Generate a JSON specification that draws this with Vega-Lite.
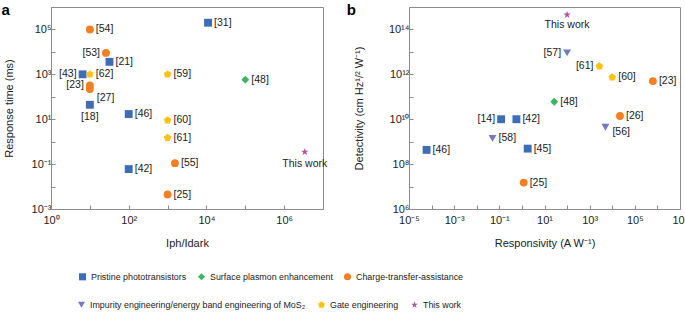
{
  "$schema": "https://vega.github.io/schema/vega-lite/v6.json",
  "padding": 0,
  "background": "white",
  "datasets": {
    "a": [
      {"ref": "[54]", "cat": "Charge-transfer-assistance", "x": 10, "y": 100000},
      {"ref": "[53]", "cat": "Charge-transfer-assistance", "x": 26, "y": 9000},
      {"ref": "[21]", "cat": "Pristine phototransistors", "x": 32, "y": 3600},
      {"ref": "[31]", "cat": "Pristine phototransistors", "x": 11000, "y": 200000},
      {"ref": "[43]", "cat": "Pristine phototransistors", "x": 6.5, "y": 1000},
      {"ref": "[62]", "cat": "Gate engineering", "x": 10, "y": 1000},
      {"ref": "[23]", "cat": "Charge-transfer-assistance", "x": 10, "y": 320},
      {"ref": "[27]", "cat": "Charge-transfer-assistance", "x": 10, "y": 220},
      {"ref": "[18]", "cat": "Pristine phototransistors", "x": 10, "y": 44},
      {"ref": "[46]", "cat": "Pristine phototransistors", "x": 100, "y": 17},
      {"ref": "[59]", "cat": "Gate engineering", "x": 1000, "y": 1000},
      {"ref": "[48]", "cat": "Surface plasmon enhancement", "x": 100000, "y": 580},
      {"ref": "[60]", "cat": "Gate engineering", "x": 1000, "y": 9},
      {"ref": "[61]", "cat": "Gate engineering", "x": 1000, "y": 1.5},
      {"ref": "[42]", "cat": "Pristine phototransistors", "x": 100, "y": 0.06},
      {"ref": "[55]", "cat": "Charge-transfer-assistance", "x": 1550, "y": 0.11},
      {"ref": "[25]", "cat": "Charge-transfer-assistance", "x": 1000, "y": 0.0044},
      {"ref": "This work", "cat": "This work", "x": 3400000, "y": 0.35}
    ],
    "b": [
      {"ref": "This work", "cat": "This work", "x": 100, "y": 450000000000000},
      {"ref": "[57]", "cat": "Impurity engineering/energy band engineering of MoS₂", "x": 100, "y": 9000000000000},
      {"ref": "[61]", "cat": "Gate engineering", "x": 2700, "y": 2300000000000},
      {"ref": "[60]", "cat": "Gate engineering", "x": 10000, "y": 740000000000},
      {"ref": "[23]", "cat": "Charge-transfer-assistance", "x": 630000, "y": 500000000000},
      {"ref": "[48]", "cat": "Surface plasmon enhancement", "x": 27, "y": 60000000000},
      {"ref": "[14]", "cat": "Pristine phototransistors", "x": 0.12, "y": 10000000000},
      {"ref": "[42]", "cat": "Pristine phototransistors", "x": 0.57, "y": 10000000000},
      {"ref": "[26]", "cat": "Charge-transfer-assistance", "x": 22000, "y": 14000000000},
      {"ref": "[56]", "cat": "Impurity engineering/energy band engineering of MoS₂", "x": 5000, "y": 4400000000},
      {"ref": "[58]", "cat": "Impurity engineering/energy band engineering of MoS₂", "x": 0.05, "y": 1400000000},
      {"ref": "[46]", "cat": "Pristine phototransistors", "x": 0.00006, "y": 430000000},
      {"ref": "[45]", "cat": "Pristine phototransistors", "x": 1.8, "y": 490000000},
      {"ref": "[25]", "cat": "Charge-transfer-assistance", "x": 1.2, "y": 15000000}
    ]
  },
  "hconcat": [
    {
      "width": 272,
      "height": 202,
      "title": {"text": "a", "orient": "left", "anchor": "end", "angle": 0, "align": "right", "baseline": "top", "frame": "group", "offset": -15, "dy": -4, "fontSize": 15, "fontWeight": "bold", "font": "Liberation Sans", "color": "#000"},
      "data": {"name": "a"},
      "encoding": {
        "x": {"field": "x", "type": "quantitative", "scale": {"type": "log", "domain": [1, 10000000], "nice": false},
          "axis": {"title": "Iph/Idark", "values": [1, 10, 100, 1000, 10000, 100000, 1000000, 10000000],
            "labelExpr": "round(log(datum.value)/LN10) % 2 == 0 ? '10' + replace(replace(replace(replace(replace(replace(replace(replace(replace(replace(replace(toString(round(log(datum.value)/LN10)),'-','⁻'),'0','⁰'),'1','¹'),'2','²'),'3','³'),'4','⁴'),'5','⁵'),'6','⁶'),'7','⁷'),'8','⁸'),'9','⁹') : ''"}},
        "y": {"field": "y", "type": "quantitative", "scale": {"type": "log", "domain": [0.001, 1000000], "nice": false},
          "axis": {"title": "Response time (ms)", "values": [0.001, 0.01, 0.1, 1, 10, 100, 1000, 10000, 100000, 1000000],
            "labelExpr": "round(log(datum.value)/LN10) % 2 == 0 ? '' : '10' + replace(replace(replace(replace(replace(replace(replace(replace(replace(replace(replace(toString(round(log(datum.value)/LN10)),'-','⁻'),'0','⁰'),'1','¹'),'2','²'),'3','³'),'4','⁴'),'5','⁵'),'6','⁶'),'7','⁷'),'8','⁸'),'9','⁹')"}}
      },
      "layer": [
        {
          "mark": {"type": "point", "filled": true, "size": 62, "opacity": 1},
          "encoding": {
            "color": {"field": "cat", "type": "nominal",
              "scale": {"domain": ["Pristine phototransistors", "Surface plasmon enhancement", "Charge-transfer-assistance", "Impurity engineering/energy band engineering of MoS₂", "Gate engineering", "This work"],
                "range": ["#3D6DB5", "#3CB462", "#F47F20", "#7579C0", "#FFC20F", "#B5529E"]},
              "legend": null},
            "shape": {"field": "cat", "type": "nominal",
              "scale": {"domain": ["Pristine phototransistors", "Surface plasmon enhancement", "Charge-transfer-assistance", "Impurity engineering/energy band engineering of MoS₂", "Gate engineering", "This work"],
                "range": ["square", "diamond", "circle", "triangle-down", "M0,-1L0.951,-0.309L0.588,0.809L-0.588,0.809L-0.951,-0.309Z", "M0,-1L0.225,-0.309L0.951,-0.309L0.363,0.118L0.588,0.809L0,0.382L-0.588,0.809L-0.363,0.118L-0.951,-0.309L-0.225,-0.309Z"]},
              "legend": null}
          }
        },
        {
          "transform": [{"filter": {"not": {"field": "ref", "oneOf": ["[53]", "[43]", "[23]", "[18]", "This work", "[27]"]}}}],
          "mark": {"type": "text", "align": "left", "baseline": "middle", "dx": 6, "font": "Liberation Sans", "fontSize": 10.5, "color": "#222"},
          "encoding": {"text": {"field": "ref"}}
        },
        {
          "transform": [{"filter": {"field": "ref", "oneOf": ["[53]", "[43]", "[23]"]}}],
          "mark": {"type": "text", "align": "right", "baseline": "middle", "dx": -6, "font": "Liberation Sans", "fontSize": 10.5, "color": "#222"},
          "encoding": {"text": {"field": "ref"}}
        },
        {
          "transform": [{"filter": {"field": "ref", "oneOf": ["[18]", "This work"]}}],
          "mark": {"type": "text", "align": "center", "baseline": "top", "dy": 7, "font": "Liberation Sans", "fontSize": 10.5, "color": "#222"},
          "encoding": {"text": {"field": "ref"}}
        },
        {
          "transform": [{"filter": {"field": "ref", "oneOf": ["[27]"]}}],
          "mark": {"type": "text", "align": "left", "baseline": "middle", "dx": 7, "dy": 9, "font": "Liberation Sans", "fontSize": 10.5, "color": "#222"},
          "encoding": {"text": {"field": "ref"}}
        }
      ]
    },
    {
      "width": 271,
      "height": 202,
      "title": {"text": "b", "orient": "left", "anchor": "end", "angle": 0, "align": "right", "baseline": "top", "frame": "group", "offset": -288, "dy": -4, "fontSize": 15, "fontWeight": "bold", "font": "Liberation Sans", "color": "#000"},
      "data": {"name": "b"},
      "encoding": {
        "x": {"field": "x", "type": "quantitative", "scale": {"type": "log", "domain": [0.00001, 10000000], "nice": false},
          "axis": {"title": "Responsivity (A W⁻¹)", "values": [0.00001, 0.0001, 0.001, 0.01, 0.1, 1, 10, 100, 1000, 10000, 100000, 1000000, 10000000],
            "labelExpr": "round(log(datum.value)/LN10) % 2 == 0 ? '' : '10' + replace(replace(replace(replace(replace(replace(replace(replace(replace(replace(replace(toString(round(log(datum.value)/LN10)),'-','⁻'),'0','⁰'),'1','¹'),'2','²'),'3','³'),'4','⁴'),'5','⁵'),'6','⁶'),'7','⁷'),'8','⁸'),'9','⁹')"}},
        "y": {"field": "y", "type": "quantitative", "scale": {"type": "log", "domain": [1000000, 1000000000000000], "nice": false},
          "axis": {"title": "Detectivity (cm Hz¹/² W⁻¹)", "titlePadding": 24, "values": [1000000, 10000000, 100000000, 1000000000, 10000000000, 100000000000, 1000000000000, 10000000000000, 100000000000000, 1000000000000000],
            "labelExpr": "round(log(datum.value)/LN10) % 2 == 0 ? '10' + replace(replace(replace(replace(replace(replace(replace(replace(replace(replace(replace(toString(round(log(datum.value)/LN10)),'-','⁻'),'0','⁰'),'1','¹'),'2','²'),'3','³'),'4','⁴'),'5','⁵'),'6','⁶'),'7','⁷'),'8','⁸'),'9','⁹') : ''"}}
      },
      "layer": [
        {
          "transform": [{"filter": {"field": "cat", "oneOf": ["Pristine phototransistors", "Surface plasmon enhancement", "Charge-transfer-assistance"]}}],
          "mark": {"type": "point", "filled": true, "size": 62, "opacity": 1},
          "encoding": {
            "color": {"field": "cat", "type": "nominal",
              "scale": {"domain": ["Pristine phototransistors", "Surface plasmon enhancement", "Charge-transfer-assistance"], "range": ["#3D6DB5", "#3CB462", "#F47F20"]},
              "legend": {"title": null, "orient": "none", "legendX": -331, "legendY": 265, "direction": "horizontal", "labelFont": "Liberation Sans", "labelFontSize": 8.9, "labelColor": "#222", "labelLimit": 400, "symbolSize": 50, "columnPadding": 10, "labelOffset": 4}},
            "shape": {"field": "cat", "type": "nominal",
              "scale": {"domain": ["Pristine phototransistors", "Surface plasmon enhancement", "Charge-transfer-assistance"], "range": ["square", "diamond", "circle"]},
              "legend": {"title": null, "orient": "none", "legendX": -331, "legendY": 265, "direction": "horizontal", "labelFont": "Liberation Sans", "labelFontSize": 8.9, "labelColor": "#222", "labelLimit": 400, "symbolSize": 50, "columnPadding": 10, "labelOffset": 4}}
          }
        },
        {
          "transform": [{"filter": {"field": "cat", "oneOf": ["Impurity engineering/energy band engineering of MoS₂", "Gate engineering", "This work"]}}],
          "mark": {"type": "point", "filled": true, "size": 62, "opacity": 1},
          "encoding": {
            "color": {"field": "cat", "type": "nominal",
              "scale": {"domain": ["Impurity engineering/energy band engineering of MoS₂", "Gate engineering", "This work"], "range": ["#7579C0", "#FFC20F", "#B5529E"]},
              "legend": {"title": null, "orient": "none", "legendX": -332, "legendY": 293, "direction": "horizontal", "labelFont": "Liberation Sans", "labelFontSize": 8.9, "labelColor": "#222", "labelLimit": 400, "symbolSize": 50, "columnPadding": 11, "labelOffset": 4}},
            "shape": {"field": "cat", "type": "nominal",
              "scale": {"domain": ["Impurity engineering/energy band engineering of MoS₂", "Gate engineering", "This work"], "range": ["triangle-down", "M0,-1L0.951,-0.309L0.588,0.809L-0.588,0.809L-0.951,-0.309Z", "M0,-1L0.225,-0.309L0.951,-0.309L0.363,0.118L0.588,0.809L0,0.382L-0.588,0.809L-0.363,0.118L-0.951,-0.309L-0.225,-0.309Z"]},
              "legend": {"title": null, "orient": "none", "legendX": -332, "legendY": 293, "direction": "horizontal", "labelFont": "Liberation Sans", "labelFontSize": 8.9, "labelColor": "#222", "labelLimit": 400, "symbolSize": 50, "columnPadding": 11, "labelOffset": 4}}
          }
        },
        {
          "transform": [{"filter": {"not": {"field": "ref", "oneOf": ["[14]", "[57]", "[61]", "This work", "[56]"]}}}],
          "mark": {"type": "text", "align": "left", "baseline": "middle", "dx": 6, "font": "Liberation Sans", "fontSize": 10.5, "color": "#222"},
          "encoding": {"text": {"field": "ref"}}
        },
        {
          "transform": [{"filter": {"field": "ref", "oneOf": ["[14]", "[57]", "[61]"]}}],
          "mark": {"type": "text", "align": "right", "baseline": "middle", "dx": -6, "font": "Liberation Sans", "fontSize": 10.5, "color": "#222"},
          "encoding": {"text": {"field": "ref"}}
        },
        {
          "transform": [{"filter": {"field": "ref", "oneOf": ["This work"]}}],
          "mark": {"type": "text", "align": "center", "baseline": "top", "dy": 5, "font": "Liberation Sans", "fontSize": 10.5, "color": "#222"},
          "encoding": {"text": {"field": "ref"}}
        },
        {
          "transform": [{"filter": {"field": "ref", "oneOf": ["[56]"]}}],
          "mark": {"type": "text", "align": "left", "baseline": "middle", "dx": 7, "dy": 5, "font": "Liberation Sans", "fontSize": 10.5, "color": "#222"},
          "encoding": {"text": {"field": "ref"}}
        }
      ],
      "resolve": {"scale": {"color": "independent", "shape": "independent"}}
    }
  ],
  "spacing": -252,
  "resolve": {"scale": {"color": "independent", "shape": "independent"}},
  "config": {
    "font": "Liberation Sans",
    "view": {"stroke": "#8c8c8c"},
    "axis": {"domainColor": "#8c8c8c", "tickColor": "#8c8c8c", "tickSize": -4, "grid": false, "labelFont": "Liberation Sans", "labelFontSize": 11, "labelColor": "#222", "labelPadding": 4, "labelFlush": false, "labelOverlap": false, "titleFont": "Liberation Sans", "titleFontSize": 11, "titleFontWeight": "normal", "titleColor": "#222"},
    "axisY": {"titlePadding": 17},
    "axisX": {"titlePadding": 12, "labelPadding": 9}
  }
}
